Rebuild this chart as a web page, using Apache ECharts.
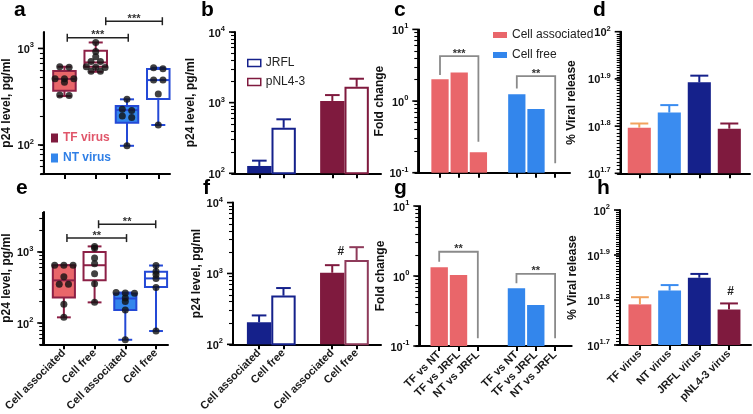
<!DOCTYPE html>
<html><head><meta charset="utf-8">
<script src="https://cdn.jsdelivr.net/npm/echarts@6/dist/echarts.min.js"></script>
<style>html,body{margin:0;padding:0;background:#fff}#c{width:753px;height:414px}</style>
</head><body><div id="c"></div>
<script>
// ================= DATA =================
// Panels a / e : p24 level (pg/ml), groups: TF cell associated, TF cell free, NT cell associated, NT cell free
const boxCats = ['Cell associated', 'Cell free', 'Cell associated', 'Cell free'];
// five-number summaries [min, q1, median, q3, max]
const boxA = [[321, 364, 482, 582, 646], [573, 646, 716, 945, 1153], [98, 170, 230, 253, 297], [161, 299, 470, 611, 630]];
const dotsA = [[646, 640, 485, 485, 485, 445, 330, 325], [1150, 930, 820, 730, 730, 645, 640, 635, 580, 580], [297, 235, 228, 200, 192, 98], [630, 615, 470, 470, 337, 161]];
const boxE = [[120, 228, 398, 650, 650], [195, 398, 650, 1000, 1197], [58, 152, 221, 260, 268], [77, 321, 424, 526, 644]];
const dotsE = [[650, 650, 650, 448, 350, 350, 184, 120], [1197, 1130, 824, 680, 493, 358, 195], [268, 265, 262, 225, 200, 152, 58], [644, 530, 480, 424, 315, 77]];
const sigAE = ['***', '***', '**', '**'];

// Panels b / f : p24 level, JRFL vs pNL4-3 (cell associated, cell free), mean and upper error
const bfCats = ['Cell associated', 'Cell free', 'Cell associated', 'Cell free'];
const jrflB = [127, 441], jrflBErr = [151, 581];
const nl43B = [1057, 1679], nl43BErr = [1280, 2180];
const jrflF = [205, 487], jrflFErr = [256, 623];
const nl43F = [1024, 1550], nl43FErr = [1310, 2350];

// Panels c / g : fold change
const foldCats = ['TF vs NT', 'TF vs JRFL', 'NT vs JRFL'];
const foldCAssoc = [2.01, 2.51, 0.193], foldCFree = [1.24, 0.773, null];
const foldGAssoc = [1.33, 1.03, null], foldGFree = [0.667, 0.385, null];
const sigCG = ['***', '**', '**', '**'];

// Panels d / h : % viral release
const relCats = ['TF virus', 'NT virus', 'JRFL virus', 'pNL4-3 virus'];
const relD = [62.6, 67.4, 78.1, 62.3], relDErr = [63.9, 69.9, 80.7, 63.9];
const relH = [61.7, 66.2, 70.7, 60.1], relHErr = [64.0, 68.1, 72.1, 62.0];

// tick label exponents
const expAE = [2, 3], expBF = [2, 3, 4], expCG = [-1, 0, 1], expDH = [1.7, 1.8, 1.9, 2];

// ================= STYLE =================
const FONT = '"Liberation Sans", Arial, Helvetica, sans-serif';
const C = {
  salmon: '#e9666a', maroon: '#7f1a3e', boxMaroon: '#8c2046', blue: '#3386ec', boxBlue: '#2449d6',
  navy: '#15218b', orange: '#f2a25e', grey: '#8a8a8a', ink: '#111'
};
const L10 = Math.log10;
const PAD = 3; // px between grid edge and y axis (keeps x = 0 inside the x extent)

const grids = [], xAxes = [], yAxes = [], series = [], graphics = [], panels = [];

function expLabel(v) {
  const e = Math.round(v * 10) / 10;
  const s = Number.isInteger(e) ? String(e) : e.toFixed(1);
  return '{b|10}{s|' + s + '}';
}
function minorTicks(ymin, ymax, integer) {
  const out = [];
  if (integer) { for (let v = Math.ceil(ymin); v <= ymax; v++) out.push(L10(v)); return out; }
  for (let n = Math.floor(L10(ymin)); n <= Math.ceil(L10(ymax)); n++)
    for (let k = 1; k <= 9; k++) { const v = k * Math.pow(10, n); if (v >= ymin * 0.999 && v <= ymax * 1.001) out.push(L10(v)); }
  return out;
}

// x positions are shifted so that the y axis sits on x = 0
function addPanel(p) {
  const gi = grids.length;
  const xo = -p.xmin;
  const unit = (p.r - p.l) / (p.xmax - p.xmin);
  grids.push({ left: p.l - PAD, top: p.t, width: p.r - p.l + PAD, height: p.b - p.t, containLabel: false });
  const xl = p.xlabels;
  const xt = p.xt.map(t => t + xo);
  xAxes.push({
    gridIndex: gi, type: 'value', min: -PAD / unit, max: p.xmax + xo, splitLine: { show: false },
    axisLine: { show: true, onZero: false, lineStyle: { color: '#000', width: 2 } },
    axisTick: { show: true, customValues: xt, length: 5, lineStyle: { color: '#000', width: 2 } },
    axisLabel: xl ? {
      show: true, customValues: xt, rotate: 45, margin: 7, fontSize: 11, fontWeight: 'bold', color: '#1a1a1a', fontFamily: FONT,
      formatter: v => { const i = xt.findIndex(t => Math.abs(t - v) < 1e-6); return i >= 0 ? xl[i] : ''; }
    } : { show: false }
  });
  const lmin = L10(p.ymin), lmax = L10(p.ymax);
  const majors = p.exps.filter(e => e >= lmin - 1e-9 && e <= lmax + 1e-9);
  const minors = minorTicks(p.ymin, p.ymax, p.intTicks);
  yAxes.push({
    gridIndex: gi, type: 'value', min: lmin, max: lmax, splitLine: { show: false },
    axisLine: { show: true, onZero: true, lineStyle: { color: '#000', width: 2 } },
    axisTick: { show: true, customValues: minors, length: 4, lineStyle: { color: '#000', width: 1.1 } },
    axisLabel: {
      show: true, customValues: majors, margin: 7, formatter: expLabel,
      rich: {
        b: { fontSize: 11, fontWeight: 'bold', fontFamily: FONT, color: '#111', verticalAlign: 'bottom' },
        s: { fontSize: 7.5, fontWeight: 'bold', fontFamily: FONT, color: '#111', verticalAlign: 'bottom', padding: [0, 0, 6, 0] }
      }
    },
    name: p.name, nameLocation: 'middle', nameGap: p.nameGap + PAD,
    nameTextStyle: { fontSize: 12, fontWeight: 'bold', fontFamily: FONT, color: '#111' }
  });
  graphics.push({ type: 'text', left: p.letter[1], top: p.letter[2], style: { text: p.letter[0], font: 'bold 21px ' + FONT, fill: '#000' } });
  const P = { gi: gi, xi: gi, yi: gi, lmin: lmin, lmax: lmax, xo: xo, majors: majors, minors: minors };
  panels.push(P);
  // y-axis line and major log ticks, placed through the axis scales
  const items = [[0, lmin, lmax, 0]].concat(majors.map(v => [0, v, v, 2]));
  series.push({
    type: 'custom', xAxisIndex: gi, yAxisIndex: gi, clip: false, z: 6, silent: true, data: items,
    renderItem: (params, api) => {
      const kind = api.value(3);
      const a = api.coord([api.value(0), api.value(1)]), b = api.coord([api.value(0), api.value(2)]);
      if (kind === 0) return { type: 'line', shape: { x1: a[0], y1: a[1] + 1, x2: b[0], y2: b[1] }, style: { stroke: '#000', lineWidth: 2 } };
      return { type: 'line', shape: { x1: a[0] - 6, y1: a[1], x2: a[0], y2: a[1] }, style: { stroke: '#000', lineWidth: 1.6 } };
    }
  });
  return P;
}

// ---------- series helpers ----------
function addBars(P, name, xs, vals, errs, styles, frac, capFrac, seriesColor) {
  const data = [];
  xs.forEach((x, i) => { if (vals[i] != null) data.push([x + P.xo, L10(vals[i]), i, errs ? L10(errs[i]) : L10(vals[i])]); });
  series.push({
    type: 'custom', name: name, xAxisIndex: P.xi, yAxisIndex: P.yi, itemStyle: { color: seriesColor },
    encode: { x: 0, y: 1 }, z: 2, data: data,
    renderItem: (params, api) => {
      const x = api.value(0), v = api.value(1), st = styles[api.value(2)];
      const top = api.coord([x, v]), base = api.coord([x, P.lmin]);
      const unit = api.size([1, 0])[0], w = unit * frac;
      const lw = st.hollow ? 2 : 0;
      const children = [{
        type: 'rect',
        shape: { x: top[0] - w / 2 + lw / 2, y: top[1] + lw / 2, width: w - lw, height: base[1] - top[1] - lw / 2 },
        style: { fill: st.hollow ? '#fff' : st.color, stroke: st.hollow ? st.color : null, lineWidth: lw }
      }];
      if (errs) {
        const e = api.coord([x, api.value(3)]);
        const cw = unit * capFrac, ec = st.err || st.color;
        children.push({ type: 'line', shape: { x1: top[0], y1: top[1], x2: top[0], y2: e[1] }, style: { stroke: ec, lineWidth: 2 } });
        children.push({ type: 'line', shape: { x1: top[0] - cw / 2, y1: e[1], x2: top[0] + cw / 2, y2: e[1] }, style: { stroke: ec, lineWidth: 2 } });
      }
      return { type: 'group', children: children };
    }
  });
}

function addBoxes(P, name, xs, boxes, styles, color) {
  series.push({
    type: 'custom', name: name, xAxisIndex: P.xi, yAxisIndex: P.yi, itemStyle: { color: color }, z: 2,
    encode: { x: 0, y: 3 },
    data: xs.map((x, i) => [x + P.xo].concat(boxes[i].map(L10)).concat([i])),
    renderItem: (params, api) => {
      const x = api.value(0), st = styles[api.value(6)];
      const y = k => api.coord([x, api.value(k)])[1];
      const cx = api.coord([x, api.value(3)])[0];
      const unit = api.size([1, 0])[0], w = unit * 0.72, cw = unit * 0.45;
      const ls = { stroke: st.stroke, lineWidth: 2 };
      return {
        type: 'group', children: [
          { type: 'line', shape: { x1: cx, y1: y(1), x2: cx, y2: y(2) }, style: ls },
          { type: 'line', shape: { x1: cx, y1: y(4), x2: cx, y2: y(5) }, style: ls },
          { type: 'line', shape: { x1: cx - cw / 2, y1: y(1), x2: cx + cw / 2, y2: y(1) }, style: ls },
          { type: 'line', shape: { x1: cx - cw / 2, y1: y(5), x2: cx + cw / 2, y2: y(5) }, style: ls },
          { type: 'rect', shape: { x: cx - w / 2, y: y(4), width: w, height: y(2) - y(4) }, style: { fill: st.fill, stroke: st.stroke, lineWidth: 2 } },
          { type: 'line', shape: { x1: cx - w / 2, y1: y(3), x2: cx + w / 2, y2: y(3) }, style: ls }
        ]
      };
    }
  });
}

function addDots(P, xs, groups) {
  const data = [];
  groups.forEach((vals, g) => {
    const sorted = vals.slice().sort((a, b) => b - a);
    let cluster = [];
    const flush = () => { cluster.forEach((v, k) => data.push([xs[g] + P.xo + (k - (cluster.length - 1) / 2) * 0.3, L10(v)])); cluster = []; };
    sorted.forEach(v => { if (cluster.length && Math.abs(L10(cluster[0]) - L10(v)) > 0.02) flush(); cluster.push(v); });
    flush();
  });
  series.push({ type: 'scatter', xAxisIndex: P.xi, yAxisIndex: P.yi, symbolSize: 7, itemStyle: { color: C.ink }, z: 4, data: data, silent: true });
}

// brackets: [x1, x2, top, leftEnd, rightEnd] (values) ; kind 'cap' or 'legs'
function addBrackets(P, rows, texts, kind, color) {
  series.push({
    type: 'custom', xAxisIndex: P.xi, yAxisIndex: P.yi, z: 5, silent: true, clip: false,
    data: rows.map(r => [r[0] + P.xo, r[1] + P.xo, L10(r[2]), L10(r[3] || r[2]), L10(r[4] || r[2])]),
    renderItem: (params, api) => {
      const a = api.coord([api.value(0), api.value(2)]), b = api.coord([api.value(1), api.value(2)]);
      const ls = { stroke: color, lineWidth: kind === 'cap' ? 1.5 : 1.8, fill: null };
      const ch = [];
      if (kind === 'cap') {
        ch.push({ type: 'line', shape: { x1: a[0], y1: a[1], x2: b[0], y2: b[1] }, style: ls });
        ch.push({ type: 'line', shape: { x1: a[0], y1: a[1] - 4, x2: a[0], y2: a[1] + 4 }, style: ls });
        ch.push({ type: 'line', shape: { x1: b[0], y1: b[1] - 4, x2: b[0], y2: b[1] + 4 }, style: ls });
      } else {
        const la = api.coord([api.value(0), api.value(3)]), rb = api.coord([api.value(1), api.value(4)]);
        ch.push({ type: 'polyline', shape: { points: [la, a, b, rb] }, style: ls });
      }
      ch.push({ type: 'text', style: { text: texts[params.dataIndex], x: (a[0] + b[0]) / 2, y: a[1] + 3, align: 'center', verticalAlign: 'bottom', font: 'bold 11px ' + FONT, fill: '#333' } });
      return { type: 'group', children: ch };
    }
  });
}

function addMark(P, x, v, text) {
  series.push({
    type: 'custom', xAxisIndex: P.xi, yAxisIndex: P.yi, z: 5, silent: true, data: [[x + P.xo, L10(v)]],
    renderItem: (params, api) => {
      const p = api.coord([api.value(0), api.value(1)]);
      return { type: 'text', style: { text: text, x: p[0], y: p[1], align: 'center', verticalAlign: 'middle', font: 'bold 12px ' + FONT, fill: '#222' } };
    }
  });
}

// ================= PANELS =================
const boxStyles = [
  { fill: C.salmon, stroke: C.boxMaroon }, { fill: '#fff', stroke: C.boxMaroon },
  { fill: C.blue, stroke: C.boxBlue }, { fill: '#fff', stroke: C.boxBlue }
];
const pA = addPanel({ l: 41, t: 32, r: 170, b: 174, xmin: -0.656, xmax: 3.375, xt: [0, 1, 2, 3], ymin: 50, ymax: 1480, exps: expAE, name: 'p24 level, pg/ml', nameGap: 25, letter: ['a', 14, 0] });
addBoxes(pA, 'TF virus', [0, 1], boxA.slice(0, 2), boxStyles.slice(0, 2), C.maroon);
addBoxes(pA, 'NT virus', [2, 3], boxA.slice(2), boxStyles.slice(2), C.blue);
addDots(pA, [0, 1, 2, 3], dotsA);
addBrackets(pA, [[0.09, 2.04, 1290], [1.32, 3.13, 1915]], sigAE.slice(0, 2), 'cap', '#222');

const pE = addPanel({ l: 41, t: 212, r: 168, b: 346, xmin: -0.671, xmax: 3.39, xt: [0, 1, 2, 3], xlabels: boxCats, ymin: 50, ymax: 3650, exps: expAE, name: 'p24 level, pg/ml', nameGap: 24, letter: ['e', 16, 178] });
addBoxes(pE, 'TF virus', [0, 1], boxE.slice(0, 2), boxStyles.slice(0, 2), C.maroon);
addBoxes(pE, 'NT virus', [2, 3], boxE.slice(2), boxStyles.slice(2), C.blue);
addDots(pE, [0, 1, 2, 3], dotsE);
addBrackets(pE, [[0.1, 2.04, 1567], [1.13, 2.99, 2455]], sigAE.slice(2), 'cap', '#222');

const pB = addPanel({ l: 235, t: 32, r: 381, b: 173.3, xmin: -1, xmax: 5, xt: [0, 1, 3, 4], ymin: 100, ymax: 10000, exps: expBF, name: 'p24 level, pg/ml', nameGap: 32, letter: ['b', 201, 0] });
addBars(pB, 'JRFL', [0, 1], jrflB, jrflBErr, [{ color: C.navy }, { color: C.navy, hollow: true }], 1.0, 0.6, C.navy);
addBars(pB, 'pNL4-3', [3, 4], nl43B, nl43BErr, [{ color: C.maroon }, { color: C.maroon, hollow: true }], 1.0, 0.6, C.maroon);

const pF = addPanel({ l: 233, t: 202.6, r: 381, b: 346, xmin: -1.07, xmax: 5, xt: [0, 1, 3, 4], xlabels: bfCats, ymin: 100, ymax: 10000, exps: expBF, name: 'p24 level, pg/ml', nameGap: 23, letter: ['f', 203, 178] });
addBars(pF, 'JRFL', [0, 1], jrflF, jrflFErr, [{ color: C.navy }, { color: C.navy, hollow: true }], 1.0, 0.6, C.navy);
addBars(pF, 'pNL4-3', [3, 4], nl43F, nl43FErr, [{ color: C.maroon }, { color: '#8e3a5a', hollow: true }], 1.0, 0.6, C.maroon);
addMark(pF, 3.35, 2000, '#');

const pC = addPanel({ l: 418.3, t: 29.4, r: 570, b: 172.7, xmin: -1.13, xmax: 6.77, xt: [0, 1, 2, 4, 5, 6], ymin: 0.1, ymax: 10, exps: expCG, name: 'Fold change', nameGap: 17, letter: ['c', 394, 0] });
addBars(pC, 'Cell associated', [0, 1, 2], foldCAssoc, null, [{ color: C.salmon }, { color: C.salmon }, { color: C.salmon }], 0.9, 0, C.salmon);
addBars(pC, 'Cell free', [4, 5, 6], foldCFree, null, [{ color: C.blue }, { color: C.blue }, { color: C.blue }], 0.9, 0, C.blue);
addBrackets(pC, [[0, 2, 4.24, 2.31, 0.27], [4, 6, 2.23, 1.5, 0.135]], sigCG.slice(0, 2), 'legs', C.grey);

const pG = addPanel({ l: 419.3, t: 206, r: 571.7, b: 346, xmin: -1.03, xmax: 6.86, xt: [0, 1, 2, 4, 5, 6], xlabels: foldCats.concat(foldCats), ymin: 0.1, ymax: 10, exps: expCG, name: 'Fold change', nameGap: 17, letter: ['g', 394, 178] });
addBars(pG, 'Cell associated', [0, 1, 2], foldGAssoc, null, [{ color: C.salmon }, { color: C.salmon }, { color: C.salmon }], 0.9, 0, C.salmon);
addBars(pG, 'Cell free', [4, 5, 6], foldGFree, null, [{ color: C.blue }, { color: C.blue }, { color: C.blue }], 0.9, 0, C.blue);
addBrackets(pG, [[0, 2, 2.22, 1.6, 0.129], [4, 6, 1.07, 0.787, 0.129]], sigCG.slice(2), 'legs', C.grey);

const relStyles = [{ color: C.salmon, err: C.orange }, { color: '#3a8cf0' }, { color: C.navy }, { color: C.maroon }];
const pD = addPanel({ l: 620.7, t: 31.7, r: 750, b: 173.3, xmin: -0.62, xmax: 3.69, xt: [0, 1, 2, 3], ymin: Math.pow(10, 1.7), ymax: 100, intTicks: true, exps: expDH, name: '% Viral release', nameGap: 37, letter: ['d', 593, 0] });
addBars(pD, '', [0, 1, 2, 3], relD, relDErr, relStyles, 0.77, 0.6, C.salmon);

const pH = addPanel({ l: 620, t: 210, r: 751, b: 345, xmin: -0.67, xmax: 3.74, xt: [0, 1, 2, 3], xlabels: relCats, ymin: Math.pow(10, 1.7), ymax: 100, intTicks: true, exps: expDH, name: '% Viral release', nameGap: 35, letter: ['h', 597, 178] });
addBars(pH, '', [0, 1, 2, 3], relH, relHErr, relStyles, 0.77, 0.6, C.salmon);
addMark(pH, 3.05, 65.8, '#');

// ================= CHART =================
const chart = echarts.init(document.getElementById('c'), null, { renderer: 'canvas' });
chart.setOption({
  animation: false,
  grid: grids, xAxis: xAxes, yAxis: yAxes, series: series, graphic: graphics,
  legend: [
    {
      left: 46, top: 127, orient: 'vertical', itemWidth: 7, itemHeight: 9, itemGap: 8, selectedMode: false, icon: 'rect',
      data: [
        { name: 'TF virus', itemStyle: { color: C.maroon }, textStyle: { color: '#e0566a' } },
        { name: 'NT virus', itemStyle: { color: C.blue }, textStyle: { color: '#2f7fe6' } }
      ],
      textStyle: { fontSize: 12, fontWeight: 'bold', fontFamily: FONT }
    },
    {
      left: 242, top: 52, orient: 'vertical', itemWidth: 13, itemHeight: 7, itemGap: 7, selectedMode: false, icon: 'rect',
      data: [
        { name: 'JRFL', itemStyle: { color: '#fff', borderColor: C.navy, borderWidth: 1.5 } },
        { name: 'pNL4-3', itemStyle: { color: '#fff', borderColor: C.maroon, borderWidth: 1.5 } }
      ],
      textStyle: { fontSize: 12, color: '#222', fontFamily: FONT }
    },
    {
      left: 488, top: 24, orient: 'vertical', itemWidth: 14, itemHeight: 6, itemGap: 8, selectedMode: false, icon: 'rect',
      data: [
        { name: 'Cell associated', itemStyle: { color: C.salmon } },
        { name: 'Cell free', itemStyle: { color: C.blue } }
      ],
      textStyle: { fontSize: 12, color: '#222', fontFamily: FONT }
    }
  ]
});

// backup: y-axis line as top-level graphics, positioned with the chart's own axis conversion
try {
  const axisGraphics = [];
  panels.forEach(P => {
    const a = chart.convertToPixel({ gridIndex: P.gi }, [0, P.lmin]);
    const b = chart.convertToPixel({ gridIndex: P.gi }, [0, P.lmax]);
    if (!a || !b || !isFinite(a[0]) || !isFinite(b[1])) return;
    axisGraphics.push({ type: 'line', z: 100, silent: true, shape: { x1: a[0], y1: a[1] + 1, x2: b[0], y2: b[1] }, style: { stroke: '#000', lineWidth: 2 } });
  });
  chart.setOption({ graphic: graphics.concat(axisGraphics) });
} catch (e) { /* ignore */ }
</script>
</body></html>
